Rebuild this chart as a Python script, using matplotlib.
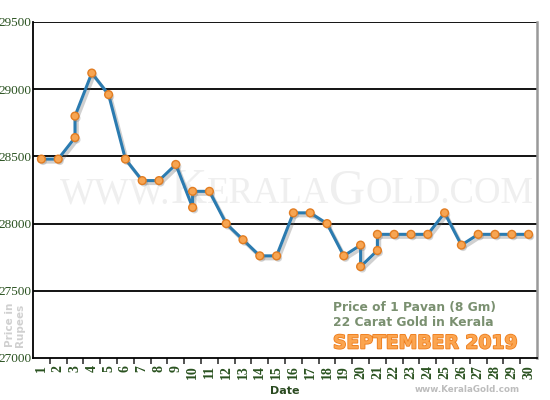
import matplotlib
matplotlib.use("Agg")
import matplotlib.pyplot as plt
import matplotlib.patheffects as pe
import numpy as np

dates = [1, 2, 3, 3, 4, 5, 6, 7, 8, 9, 10, 10, 11, 12, 13, 14, 15, 16, 17, 18,
         19, 20, 20, 21, 21, 22, 23, 24, 25, 26, 27, 28, 29, 30]
prices = [28480, 28480, 28640, 28800, 29120, 28960, 28480, 28320, 28320, 28440,
          28120, 28240, 28240, 28000, 27880, 27760, 27760, 28080, 28080, 28000,
          27760, 27840, 27680, 27800, 27920, 27920, 27920, 27920, 28080, 27840,
          27920, 27920, 27920, 27920]
x_labels = [str(d) for d in range(1, 31)]
y_ticks = [27000, 27500, 28000, 28500, 29000, 29500]

fig = plt.figure(figsize=(5.5, 4), dpi=100)
ax = fig.add_axes([33/550, 1-358/400, (537-33)/550, (358-22)/400])
ax.set_xlim(0.5, 30.5)
ax.set_ylim(27000, 29500)

# watermark
def draw_watermark():
    pieces = [("WWW.", 26.5), ("K", 36), ("ERALA", 26.5), ("G", 36), ("OLD.COM", 26.5)]
    fig.canvas.draw()
    r = fig.canvas.get_renderer()
    x = 60
    yb = 400 - 203
    for s, fs in pieces:
        t = ax.text(x/550, yb/400, s, fontsize=fs, family="Liberation Serif",
                    color="#efefef", ha="left", va="baseline", zorder=0.5,
                    transform=fig.transFigure)
        bb = t.get_window_extent(renderer=r)
        x += bb.width
draw_watermark()

for y in y_ticks[1:]:
    ax.axhline(y, color="black", lw=1.3, zorder=1)

shadow = [pe.SimpleLineShadow(offset=(1.5, -2), shadow_color="#666666", alpha=0.3, linewidth=2.5), pe.Normal()]
ax.plot(dates, prices, color="#2b7bb0", lw=2.2, zorder=3, path_effects=shadow)
ax.plot(dates, prices, ls="none", marker="o", ms=5.6, mfc="#f7a552", mec="#e27d22",
        mew=1.0, zorder=4,
        path_effects=[pe.SimplePatchShadow(offset=(1.2, -1.5), shadow_rgbFace="#777777", alpha=0.3), pe.Normal()])

ax.set_yticks(y_ticks)
ax.set_yticklabels([str(v) for v in y_ticks], family="Liberation Serif", fontsize=9.5,
                   color="#2a5220")
ax.tick_params(axis="y", length=0, pad=1)
ax.set_xticks(range(1, 31))
ax.set_xticklabels(x_labels, rotation=90, family="Liberation Serif", fontsize=10,
                   fontweight="bold", color="#2a5220")
ax.set_xticks(np.arange(1.5, 30.5, 1), minor=True)
ax.tick_params(axis="x", which="major", length=0, pad=5)
ax.tick_params(axis="x", which="minor", length=4, width=1.2, color="#333333")

ax.spines["top"].set_visible(False)
ax.spines["left"].set_linewidth(1.3)
ax.spines["bottom"].set_linewidth(1.3)
ax.spines["right"].set_color("#999999")
ax.spines["right"].set_linewidth(1.8)

ax.set_xlabel("Date", family="DejaVu Sans", fontweight="bold", fontsize=8,
              color="#2a4a20", labelpad=5)

fig.text(15/550, 1-325/400, "Price in\nRupees", rotation=90, ha="center", va="center",
         family="DejaVu Sans", fontweight="bold", fontsize=7.5, color="#d0d0d0",
         linespacing=1.0)

fig.text(333/550, 1-307/400, "Price of 1 Pavan (8 Gm)", ha="left", va="center",
         family="DejaVu Sans", fontweight="bold", fontsize=8.8, color="#7a9070")
fig.text(333/550, 1-323/400, "22 Carat Gold in Kerala", ha="left", va="center",
         family="DejaVu Sans", fontweight="bold", fontsize=8.8, color="#7a9070")
fig.text(333/550, 1-343/400, "SEPTEMBER 2019", ha="left", va="center",
         family="DejaVu Sans", fontweight="bold", fontsize=13.5, color="#fba550",
         path_effects=[pe.withStroke(linewidth=1.2, foreground="#ee7d1c")])
fig.text(520/550, 1-390/400, "www.KeralaGold.com", ha="right", va="center",
         family="DejaVu Sans", fontweight="bold", fontsize=6.3, color="#bdbdbd")

fig.savefig("out.png", dpi=100)
